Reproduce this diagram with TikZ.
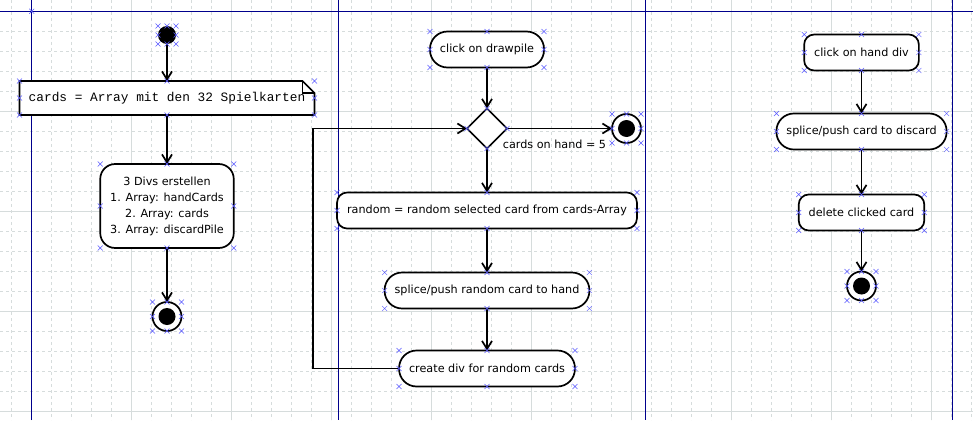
\documentclass[tikz,border=0pt]{standalone}
\usepackage{fontspec}
\setmainfont{DejaVu Sans}
\newfontfamily\notefont{Liberation Mono}
\usepackage{tikz}
\usetikzlibrary{shapes,arrows.meta,positioning,calc}
\definecolor{gridgray}{RGB}{214,220,220}
\definecolor{lanecol}{RGB}{0,0,140}
\definecolor{selcol}{RGB}{90,90,255}
\tikzstyle{initial} = [circle, fill=black, minimum size=18pt, inner sep=0pt, outer sep=0pt]
\tikzstyle{final} = [circle, draw=black, line width=1.7pt, fill=white, minimum size=29pt, inner sep=0pt, outer sep=0pt, path picture={\fill[black] (path picture bounding box.center) circle (8.5pt);}]
\tikzstyle{activity} = [rectangle, rounded corners=10pt, minimum height=36pt, inner xsep=10pt, text centered, draw=black, line width=1.7pt, fill=white, outer sep=0pt]
\tikzstyle{pill} = [activity, rounded corners=17.5pt]
\tikzstyle{decision} = [diamond, minimum width=40pt, minimum height=40pt, inner sep=0pt, draw=black, line width=1.7pt, fill=white, outer sep=0pt]
\tikzstyle{note} = [rectangle, minimum width=295pt, minimum height=34pt, fill=white, outer sep=0pt, font=\notefont\fontsize{12.8}{14}\selectfont]
\tikzstyle{arrow} = [line width=1.7pt,->,>={Straight Barb[length=8pt,width=10pt]}]
\tikzstyle{selx} = [cross out, draw=selcol, line width=0.5pt, minimum size=4.5pt, inner sep=0pt]
\tikzstyle{minorgrid} = [gridgray, line width=0.7pt, dash pattern=on 3pt off 3pt]
\tikzstyle{majorgrid} = [gridgray, line width=0.8pt]
\tikzstyle{lane} = [lanecol, line width=1pt]
\newcommand{\selmarks}[1]{%
	\foreach \a in {north,east,south,west} \node[selx] at (#1.\a) {};
	\foreach \h/\v in {west/north,east/north,west/south,east/south} \node[selx] at (#1.\h |- #1.\v) {};}

\begin{document}
\begin{tikzpicture}[x=1pt,y=-1pt,font=\fontsize{11.2}{16}\selectfont]
	\useasboundingbox (0,0) rectangle (973,420);
	\fill[white] (0,0) rectangle (973,420);
	% grid
	\foreach \g in {11.7,31.7,...,971.7} \draw[minorgrid] (\g,0) -- (\g,420);
	\foreach \g in {11.7,31.7,...,411.7} \draw[minorgrid] (0,\g) -- (973,\g);
	\foreach \g in {31.7,131.7,...,931.7} \draw[majorgrid] (\g,0) -- (\g,420);
	\foreach \g in {11.7,111.7,...,411.7} \draw[majorgrid] (0,\g) -- (973,\g);
	% swimlanes
	\foreach \g in {31.7,338.3,645,952.3} \draw[lane] (\g,0) -- (\g,420);
	\draw[lane] (0,11.3) -- (973,11.3);
	\node[selx] at (31.7,11.3) {};

	\node (start) [initial] at (167,35) {};
	\node (cards) [note, below=37pt of start] {cards = Array mit den 32 Spielkarten};
	\node (divs) [activity, rounded corners=15pt, align=center, minimum height=84pt, below=49pt of cards] {3 Divs erstellen\\1. Array: handCards\\2. Array: cards\\3. Array: discardPile};
	\node (endA) [final, below=54pt of divs] {};
	\draw [line width=1.7pt] (cards.south west) -- (cards.north west) -- ([xshift=-12pt]cards.north east) -- ([yshift=-12pt]cards.north east) -- (cards.south east) -- cycle;
	\draw [line width=1.7pt] ([xshift=-12pt]cards.north east) |- ([yshift=-12pt]cards.north east);

	\node (click) [pill] at (487,49.5) {click on drawpile};
	\node (dec) [decision, below=41pt of click] {};
	\node (endB) [final, right=105pt of dec] {};
	\node (rand) [activity, below=44pt of dec] {random = random selected card from cards-Array};
	\node (push) [pill, below=44pt of rand] {splice/push random card to hand};
	\node (create) [pill, below=42pt of push] {create div for random cards};
	\coordinate (back) at (313,250);

	\node (hand) [activity] at (861.5,52.5) {click on hand div};
	\node (discard) [pill, below=43pt of hand] {splice/push card to discard};
	\node (delete) [activity, below=45pt of discard] {delete clicked card};
	\node (endC) [final, below=41pt of delete] {};

	\draw [arrow] (start) -- (cards);
	\draw [arrow] (cards) -- (divs);
	\draw [arrow] (divs) -- (endA);
	\draw [arrow] (click) -- (dec);
	\draw [arrow] (dec) -- node[pos=0, anchor=north west, inner sep=0pt, xshift=-5pt, yshift=-11pt] {cards on hand = 5} (endB);
	\draw [arrow] (dec) -- (rand);
	\draw [arrow] (rand) -- (push);
	\draw [arrow] (push) -- (create);
	\draw [arrow] (create.west) -| (back) |- (dec.west);
	\draw [arrow] (hand) -- (discard);
	\draw [arrow] (discard) -- (delete);
	\draw [arrow] (delete) -- (endC);

	\foreach \n in {start,cards,divs,endA,click,endB,rand,push,create,hand,discard,delete,endC} {\selmarks{\n}}
	\foreach \a in {north,east,south,west} \node[selx] at (dec.\a) {};
\end{tikzpicture}
\end{document}
